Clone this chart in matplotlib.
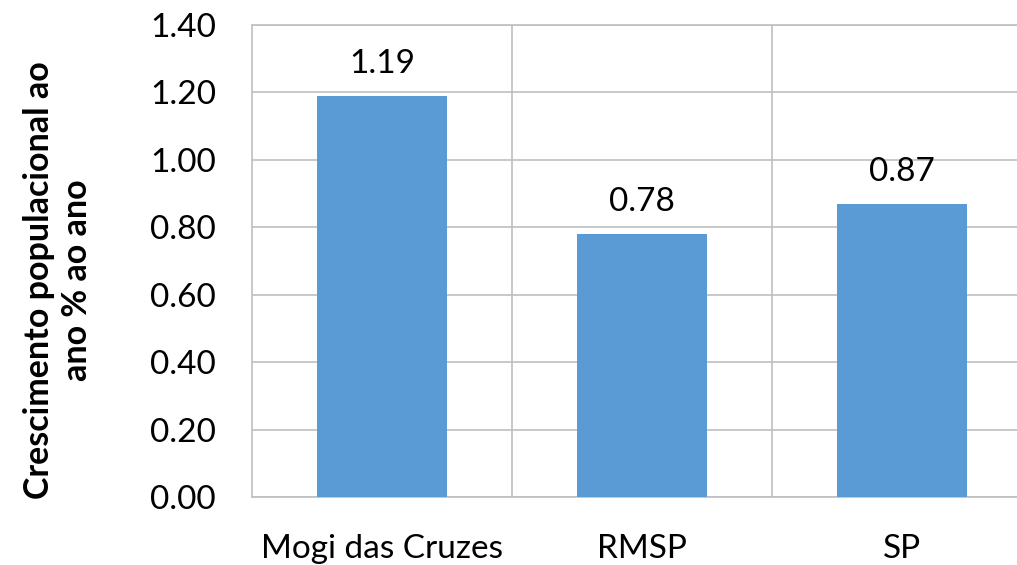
import matplotlib
matplotlib.use("Agg")
import matplotlib.pyplot as plt

# data
categories = ["Mogi das Cruzes", "RMSP", "SP"]
values = [1.19, 0.78, 0.87]
yticks = [0.0, 0.2, 0.4, 0.6, 0.8, 1.0, 1.2, 1.4]

BAR = "#5B9BD5"
GRID = "#BFBFBF"
FONT = ["Lato", "DejaVu Sans"]

W, H = 1017, 565
fig = plt.figure(figsize=(W / 100, H / 100), dpi=100)
# plot area runs off the right edge like in the original
ax = fig.add_axes([252 / W, 1 - 497 / H, 780 / W, 472 / H])

x = list(range(len(categories)))
bars = ax.bar(x, values, width=0.5, color=BAR, zorder=3)

ax.set_xlim(-0.5, len(categories) - 0.5)
ax.set_ylim(0, 1.4)
ax.set_yticks(yticks)
ax.set_yticklabels([f"{v:.2f}" for v in yticks], family=FONT, fontsize=24)
ax.set_xticks(x)
ax.set_xticklabels(categories, family=FONT, fontsize=24)
ax.tick_params(axis="y", length=0, pad=26)
ax.tick_params(axis="x", length=0, pad=27)

# category separators + horizontal grid
ax.yaxis.grid(True, color=GRID, lw=1.2, zorder=0)
for b in [0.5, 1.5]:
    ax.axvline(b, color=GRID, lw=1.2, zorder=0)
for s in ax.spines.values():
    s.set_color(GRID)
    s.set_linewidth(1.2)

for rect, v in zip(bars, values):
    ax.annotate(f"{v:.2f}", (rect.get_x() + rect.get_width() / 2, v),
                xytext=(0, 12), textcoords="offset points",
                ha="center", va="bottom", family=FONT, fontsize=24)

fig.text(58 / W, 1 - 280 / H, "Crescimento populacional ao\nano % ao ano",
         rotation=90, ha="center", va="center", family=FONT,
         fontsize=24.5, fontweight="bold", linespacing=1.25)

fig.savefig("out.png", dpi=100)
